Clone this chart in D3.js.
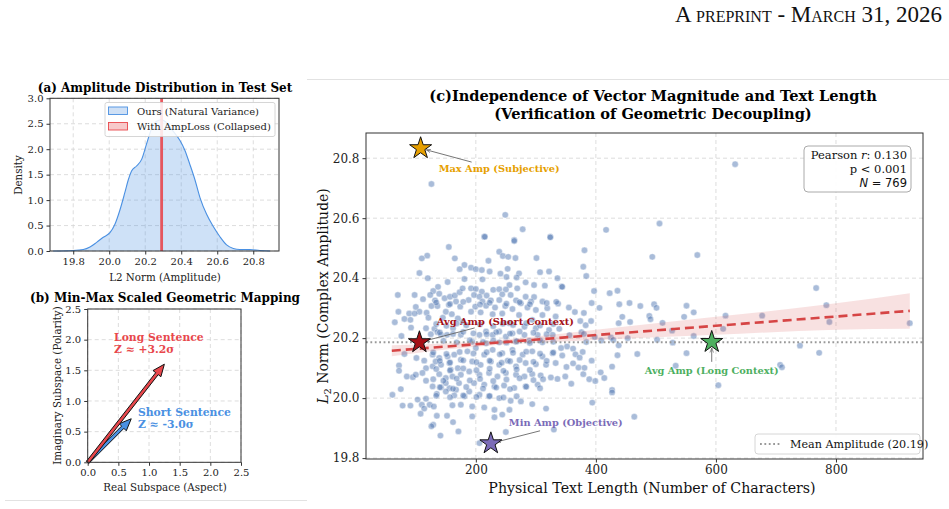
<!DOCTYPE html>
<html><head><meta charset="utf-8">
<script src="https://cdn.jsdelivr.net/npm/d3@7/dist/d3.min.js"></script>
<style>
html,body{margin:0;padding:0;background:#fff;}
svg{display:block;font-family:"DejaVu Serif",serif;}
</style></head>
<body>
<svg id="fig" width="949" height="509"></svg>
<script>
// ---------- DATA ----------
// Panel (a): KDE of amplitudes (Ours)
const kdeX = [19.689,19.80,19.856,19.893,19.93,19.967,20.004,20.031,20.059,20.087,20.106,20.124,20.152,20.18,20.207,20.235,20.263,20.291,20.319,20.356,20.393,20.42,20.448,20.476,20.504,20.541,20.578,20.615,20.652,20.689,20.726,20.781,20.837,20.893];
const kdeY = [0.0,0.01,0.03,0.08,0.17,0.27,0.36,0.52,0.80,1.15,1.40,1.57,1.67,1.80,2.10,2.40,2.55,2.58,2.52,2.35,2.17,1.98,1.70,1.40,1.05,0.72,0.48,0.28,0.12,0.05,0.03,0.03,0.01,0.0];
const collapsedAmp = 20.291;
const legendA = ["Ours (Natural Variance)", "With AmpLoss (Collapsed)"];
const ticksAX = [19.8,20.0,20.2,20.4,20.6,20.8];
const ticksAY = [0,0.5,1.0,1.5,2.0,2.5,3.0];

// Panel (b): vectors
const vecNames = ["Short Sentence","Long Sentence"];
const vecZ = ["Z \u2248 -3.0\u03c3","Z \u2248 +3.2\u03c3"];
const vecRe = [0.71, 1.25];
const vecIm = [0.71, 1.60];
const ticksB = [0,0.5,1.0,1.5,2.0,2.5];

// Panel (c): scatter (text length, L2 norm)
const scatterPoints = [
[632,20.780],[417,20.561],[506,20.582],[381,20.493],[494,20.471],[569,20.477],[379,20.438],[384,20.407],[343,20.372],[767,20.367],
[397,20.357],[423,20.350],[436,20.358],[393,20.317],[439,20.313],[456,20.317],[406,20.301],[474,20.307],[497,20.313],[501,20.301],
[551,20.308],[784,20.310],[355,20.302],[365,20.287],[380,20.284],[563,20.286],[616,20.275],[677,20.275],[444,20.271],[489,20.274],
[491,20.263],[547,20.271],[392,20.257],[374,20.257],[383,20.243],[438,20.250],[457,20.254],[511,20.251],[789,20.254],[923,20.250],
[612,20.231],[376,20.220],[527,20.225],[563,20.207],[356,20.210],[380,20.214],[398,20.204],[409,20.192],[425,20.202],[429,20.194],
[438,20.176],[453,20.200],[502,20.195],[528,20.185],[384,20.187],[352,20.172],[362,20.165],[378,20.154],[344,20.142],[366,20.146],
[373,20.135],[436,20.143],[469,20.147],[551,20.150],[740,20.175],[772,20.151],[393,20.125],[362,20.116],[351,20.104],[371,20.102],
[379,20.080],[381,20.101],[427,20.105],[533,20.108],[707,20.111],[710,20.103],[349,20.072],[389,20.063],[399,20.057],[408,20.086],
[414,20.067],[359,20.048],[604,20.043],[427,20.027],[427,20.019],[394,19.985],[464,19.938],
[126,20.714],[249,20.611],[278,20.563],[214,20.538],[264,20.527],[324,20.538],
[155,20.504],[119,20.475],[110,20.466],[165,20.466],[181,20.444],[173,20.430],[106,20.417],[120,20.400],[181,20.397],[153,20.387],
[137,20.371],[70,20.344],[98,20.344],[129,20.357],[124,20.344],[139,20.348],[148,20.333],[157,20.338],[165,20.342],[173,20.353],
[178,20.366],[112,20.330],[132,20.326],[126,20.307],[136,20.307],[100,20.304],[106,20.288],[71,20.288],[89,20.282],[98,20.282],
[81,20.264],[91,20.261],[65,20.253],[118,20.285],[121,20.268],[155,20.311],[167,20.322],[174,20.305],[150,20.288],[160,20.280],
[145,20.268],[92,20.235],[117,20.233],[131,20.231],[136,20.220],[142,20.211],[76,20.207],[152,20.211],[175,20.211],[125,20.213],
[162,20.233],[178,20.255],[170,20.266],
[215,20.538],[264,20.524],[324,20.536],[239,20.488],[245,20.474],[254,20.471],[266,20.467],[221,20.458],[301,20.467],[192,20.435],
[200,20.430],[210,20.427],[223,20.422],[241,20.415],[253,20.431],[272,20.416],[307,20.420],[322,20.422],[251,20.404],[268,20.402],
[211,20.396],[336,20.400],[283,20.386],[256,20.377],[315,20.375],[344,20.371],[297,20.377],[192,20.366],[200,20.364],[210,20.355],
[229,20.361],[239,20.363],[250,20.362],[269,20.366],[197,20.344],[206,20.338],[218,20.342],[244,20.346],[258,20.344],[283,20.338],
[297,20.337],[311,20.322],[337,20.315],[188,20.327],[211,20.322],[225,20.326],[239,20.327],[267,20.326],[275,20.316],[292,20.322],
[199,20.305],[217,20.308],[232,20.302],[249,20.307],[261,20.297],[286,20.302],[300,20.294],[319,20.300],[192,20.288],[208,20.286],
[228,20.280],[244,20.282],[272,20.277],[311,20.277],[333,20.272],[294,20.261],[256,20.250],[281,20.238],[300,20.233],[322,20.227],
[339,20.231],[217,20.222],[239,20.222],[261,20.216],[206,20.211],[228,20.211],[250,20.205],[281,20.211],[303,20.211],[328,20.211],
[194,20.188],[217,20.183],[239,20.186],[267,20.188],[289,20.191],[311,20.186],
[81,20.147],[101,20.134],[114,20.125],[128,20.145],[139,20.134],[153,20.139],[164,20.145],[175,20.128],[72,20.109],[72,20.091],
[85,20.072],[95,20.070],[100,20.078],[117,20.100],[128,20.106],[142,20.111],[156,20.117],[170,20.100],[117,20.058],[139,20.080],
[150,20.067],[161,20.072],[175,20.078],[128,20.039],[142,20.036],[156,20.033],[167,20.028],[75,20.030],[61,20.011],[135,20.014],
[150,20.022],[164,20.009],[181,20.006],[103,19.995],[117,19.998],[78,19.975],[91,19.975],[110,19.978],[123,19.978],[130,19.972],
[114,19.965],[161,19.976],[175,19.978],[108,19.948],[135,19.941],[152,19.941],[162,19.920],[129,19.911],[126,19.906],[171,19.889],
[141,19.875],[150,20.050],[172,20.050],[111,20.084],[133,20.122],[158,20.095],
[186,20.156],[200,20.167],[214,20.145],[228,20.161],[244,20.150],[261,20.161],[278,20.145],[294,20.156],[311,20.139],[328,20.150],
[342,20.167],[194,20.122],[208,20.111],[225,20.122],[239,20.111],[253,20.125],[267,20.106],[283,20.117],[300,20.113],[317,20.111],
[333,20.117],[189,20.089],[206,20.078],[222,20.084],[236,20.072],[250,20.084],[267,20.078],[281,20.072],[294,20.080],[308,20.076],
[325,20.069],[336,20.064],[197,20.050],[214,20.045],[231,20.039],[247,20.042],[264,20.034],[283,20.039],[303,20.045],[189,20.022],
[206,20.011],[222,20.006],[239,20.000],[258,19.991],[275,19.989],[294,19.980],[317,19.965],[194,19.972],[214,19.969],[231,19.961],
[256,19.961],[194,19.939],[231,19.936],[250,19.887],[330,19.895],[206,19.850],[244,19.945],
[134,20.319],[157,20.314],[179,20.321],[207,20.312],[223,20.318],[251,20.315],[273,20.320],[290,20.313],[318,20.317],[334,20.321],
[134,20.247],[151,20.241],[168,20.249],[184,20.243],[207,20.246],[229,20.240],[245,20.248],[262,20.244],[284,20.250],[307,20.242],[329,20.247],
[140,20.219],[162,20.214],[179,20.221],[196,20.216],[218,20.213],[234,20.220],[257,20.215],[273,20.222],[296,20.218],[318,20.213],
[146,20.191],[168,20.186],[190,20.193],[212,20.187],[229,20.192],[251,20.185],[268,20.190],[290,20.184],[307,20.193],[329,20.188],
[129,20.152],[151,20.147],[173,20.154],[196,20.149],[218,20.153],[240,20.146],[262,20.151],[284,20.155],[307,20.148],[329,20.152],
[140,20.124],[157,20.119],[179,20.126],[201,20.120],[223,20.125],[243,20.118],[257,20.123],[273,20.127],[296,20.121],[318,20.124],
[134,20.097],[157,20.092],[179,20.099],[201,20.093],[223,20.098],[246,20.091],[268,20.096],[290,20.094],
[129,20.063],[146,20.058],[168,20.065],[190,20.059],[207,20.064],[229,20.057],[251,20.062],[273,20.066],[296,20.060],[312,20.063],
[140,20.036],[162,20.031],[184,20.037],[212,20.032],[234,20.035],[257,20.030],[284,20.038],[307,20.033],
[134,20.008],[157,20.003],[179,20.009],[201,20.004],[223,20.007],[246,20.002],[268,20.006]
];
// regression line and confidence band
const regX = [60, 923];
const regY = [20.158, 20.291];
const ciX  = [60, 150, 240, 400, 600, 800, 923];
const ciLo = [20.140, 20.162, 20.178, 20.194, 20.211, 20.228, 20.231];
const ciHi = [20.176, 20.182, 20.194, 20.228, 20.271, 20.316, 20.350];
const meanAmp = 20.186;
// highlighted samples
const hlNames  = ["Max Amp (Subjective)","Avg Amp (Short Context)","Avg Amp (Long Context)","Min Amp (Objective)"];
const hlX      = [108, 106, 593, 225];
const hlY      = [20.833, 20.186, 20.187, 19.849];
const hlColors = ["#e69f00","#a50f15","#4daf5f","#7b6bb8"];
const ticksCX = [200,400,600,800];
const ticksCY = [19.8,20.0,20.2,20.4,20.6,20.8];
const stats = {r:"0.130", p:"0.001", n:"769"};

// ---------- DRAW ----------
const svg = d3.select("#fig");
const fmt1 = d3.format(".1f");

// page decorations
svg.append("text").attr("x",942).attr("y",22).attr("text-anchor","end")
  .style("font-family","'Liberation Serif',serif").style("font-size","23px")
  .style("font-variant","small-caps").attr("fill","#111")
  .text("A preprint - March 31, 2026");
svg.append("line").attr("x1",307).attr("x2",949).attr("y1",79.5).attr("y2",79.5).attr("stroke","#e2e2e2");
svg.append("line").attr("x1",5).attr("x2",307).attr("y1",500.5).attr("y2",500.5).attr("stroke","#e2e2e2");

function grid(g, xs, ys, xt, yt, x0, x1, y0, y1){
  g.selectAll(null).data(xt).enter().append("line")
    .attr("x1",d=>xs(d)).attr("x2",d=>xs(d)).attr("y1",y0).attr("y2",y1)
    .attr("stroke","#d4d4d4").attr("stroke-width",0.8).attr("stroke-dasharray","4,3");
  g.selectAll(null).data(yt).enter().append("line")
    .attr("y1",d=>ys(d)).attr("y2",d=>ys(d)).attr("x1",x0).attr("x2",x1)
    .attr("stroke","#d4d4d4").attr("stroke-width",0.8).attr("stroke-dasharray","4,3");
}
function axes(g, xs, ys, xt, yt, y0, x0, fs, xf, yf){
  const ax = g.append("g").attr("transform",`translate(0,${y0})`)
    .call(d3.axisBottom(xs).tickValues(xt).tickSize(3.5).tickPadding(3).tickFormat(xf));
  const ay = g.append("g").attr("transform",`translate(${x0},0)`)
    .call(d3.axisLeft(ys).tickValues(yt).tickSize(3.5).tickPadding(3).tickFormat(yf));
  [ax,ay].forEach(a=>{
    a.select(".domain").remove();
    a.selectAll("line").attr("stroke","#333");
    a.selectAll("text").style("font-family","'DejaVu Serif',serif").style("font-size",fs+"px").attr("fill","#222");
  });
}
function frame(g, x0, y0, x1, y1){
  g.append("rect").attr("x",x0).attr("y",y0).attr("width",x1-x0).attr("height",y1-y0)
    .attr("fill","none").attr("stroke","#333").attr("stroke-width",1);
}

// ===== Panel (a) =====
{
  const g = svg.append("g");
  const X0=50, X1=279, Y0=98.3, Y1=251;
  const xs = d3.scaleLinear().domain([19.671,20.943]).range([X0,X1]);
  const ys = d3.scaleLinear().domain([0,3]).range([Y1,Y0]);
  grid(g, xs, ys, ticksAX, ticksAY, X0, X1, Y0, Y1);
  const pts = kdeX.map((x,i)=>[x,kdeY[i]]);
  g.append("path").datum(pts)
    .attr("d", d3.area().x(d=>xs(d[0])).y0(ys(0)).y1(d=>ys(d[1])).curve(d3.curveMonotoneX))
    .attr("fill","#4a90e2").attr("fill-opacity",0.27);
  g.append("path").datum(pts)
    .attr("d", d3.line().x(d=>xs(d[0])).y(d=>ys(d[1])).curve(d3.curveMonotoneX))
    .attr("fill","none").attr("stroke","#4a90e2").attr("stroke-width",1.1);
  g.append("rect").attr("x",xs(collapsedAmp)-1.4).attr("y",Y0).attr("width",2.8).attr("height",Y1-Y0)
    .attr("fill","#e8474c").attr("opacity",0.9);
  frame(g, X0, Y0, X1, Y1);
  axes(g, xs, ys, ticksAX, ticksAY, Y1, X0, 10, fmt1, fmt1);
  // legend
  const lg = g.append("g");
  lg.append("rect").attr("x",105).attr("y",102.5).attr("width",170).attr("height",34).attr("rx",2)
    .attr("fill","#fff").attr("fill-opacity",0.85).attr("stroke","#ccc").attr("stroke-width",0.8);
  const pf = ["#cfe0f5","#f7c9ca"], ps = ["#4a90e2","#e8474c"];
  legendA.forEach((t,i)=>{
    const yy = 111 + i*15.5;
    lg.append("rect").attr("x",108.5).attr("y",yy-4).attr("width",19).attr("height",7.5)
      .attr("fill",pf[i]).attr("stroke",ps[i]).attr("stroke-width",0.9);
    lg.append("text").attr("x",137).attr("y",yy+3.5).style("font-size","10px").attr("fill","#222").text(t);
  });
  g.append("text").attr("x",165).attr("y",92).attr("text-anchor","middle")
    .style("font-size","12px").style("font-weight","bold").text("(a) Amplitude Distribution in Test Set");
  g.append("text").attr("x",165).attr("y",280.5).attr("text-anchor","middle")
    .style("font-size","10.3px").attr("fill","#222").text("L2 Norm (Amplitude)");
  g.append("text").attr("transform","translate(21.5,175) rotate(-90)").attr("text-anchor","middle")
    .style("font-size","10.3px").attr("fill","#222").text("Density");
}

// ===== Panel (b) =====
{
  const g = svg.append("g");
  const X0=87.7, X1=241, Y0=309, Y1=462.3;
  const xs = d3.scaleLinear().domain([0,2.5]).range([X0,X1]);
  const ys = d3.scaleLinear().domain([0,2.5]).range([Y1,Y0]);
  grid(g, xs, ys, ticksB, ticksB, X0, X1, Y0, Y1);
  const cols = ["#4a90e2","#e8474c"];
  function arrowPoly(x0,y0,x1,y1,w,hw,hl){
    const dx=x1-x0, dy=y1-y0, L=Math.hypot(dx,dy), ux=dx/L, uy=dy/L, nx=-uy, ny=ux;
    const bx=x1-ux*hl, by=y1-uy*hl;
    return [[x0+nx*w/2,y0+ny*w/2],[bx+nx*w/2,by+ny*w/2],[bx+nx*hw/2,by+ny*hw/2],[x1,y1],
            [bx-nx*hw/2,by-ny*hw/2],[bx-nx*w/2,by-ny*w/2],[x0-nx*w/2,y0-ny*w/2]];
  }
  vecRe.forEach((re,i)=>{
    const p = arrowPoly(xs(0),ys(0),xs(re),ys(vecIm[i]),3.2,10,12);
    g.append("polygon").attr("points",p.map(d=>d.join(",")).join(" "))
      .attr("fill",cols[i]).attr("stroke","#111").attr("stroke-width",1).attr("stroke-linejoin","miter");
  });
  // labels
  g.append("text").attr("x",xs(0.43)).attr("y",ys(1.98)).style("font-size","10.8px").style("font-weight","bold")
    .attr("fill",cols[1]).text(vecNames[1]);
  g.append("text").attr("x",xs(0.43)).attr("y",ys(1.78)).style("font-size","10.8px").style("font-weight","bold")
    .attr("fill",cols[1]).text(vecZ[1]);
  g.append("text").attr("x",xs(0.82)).attr("y",ys(0.76)).style("font-size","10.8px").style("font-weight","bold")
    .attr("fill",cols[0]).text(vecNames[0]);
  g.append("text").attr("x",xs(0.82)).attr("y",ys(0.56)).style("font-size","10.8px").style("font-weight","bold")
    .attr("fill",cols[0]).text(vecZ[0]);
  frame(g, X0, Y0, X1, Y1);
  axes(g, xs, ys, ticksB, ticksB, Y1, X0, 10, fmt1, fmt1);
  g.append("text").attr("x",165).attr("y",301.5).attr("text-anchor","middle")
    .style("font-size","12px").style("font-weight","bold").text("(b) Min-Max Scaled Geometric Mapping");
  g.append("text").attr("x",165).attr("y",491).attr("text-anchor","middle")
    .style("font-size","10.3px").attr("fill","#222").text("Real Subspace (Aspect)");
  g.append("text").attr("transform","translate(60.5,385.5) rotate(-90)").attr("text-anchor","middle")
    .style("font-size","10.3px").attr("fill","#222").text("Imaginary Subspace (Polarity)");
}

// ===== Panel (c) =====
{
  const g = svg.append("g");
  const X0=366, X1=923, Y0=133, Y1=459;
  const xs = d3.scaleLinear().domain([17,945]).range([X0,X1]);
  const ys = d3.scaleLinear().domain([19.797,20.884]).range([Y1,Y0]);
  grid(g, xs, ys, ticksCX, ticksCY, X0, X1, Y0, Y1);
  const clipId="clipC";
  svg.append("clipPath").attr("id",clipId).append("rect").attr("x",X0).attr("y",Y0).attr("width",X1-X0).attr("height",Y1-Y0);
  const pg = g.append("g").attr("clip-path",`url(#${clipId})`);
  pg.selectAll("circle.pt").data(scatterPoints).enter().append("circle").attr("class","pt")
    .attr("cx",d=>xs(d[0])).attr("cy",d=>ys(d[1])).attr("r",3.2)
    .attr("fill","#4c72b0").attr("fill-opacity",0.48)
    .attr("stroke","#fff").attr("stroke-width",0.5).attr("stroke-opacity",0.8);
  // confidence band
  const band = ciX.map((x,i)=>[x,ciLo[i],ciHi[i]]);
  pg.append("path").datum(band)
    .attr("d", d3.area().x(d=>xs(d[0])).y0(d=>ys(d[1])).y1(d=>ys(d[2])).curve(d3.curveMonotoneX))
    .attr("fill","#d64545").attr("fill-opacity",0.16);
  // mean line
  pg.append("line").attr("x1",X0).attr("x2",X1).attr("y1",ys(meanAmp)).attr("y2",ys(meanAmp))
    .attr("stroke","#999").attr("stroke-width",2).attr("stroke-dasharray","1.8,2.6");
  // regression line
  pg.append("line").attr("x1",xs(regX[0])).attr("x2",xs(regX[1])).attr("y1",ys(regY[0])).attr("y2",ys(regY[1]))
    .attr("stroke","#d64545").attr("stroke-width",2.6).attr("stroke-dasharray","9,5");
  // annotation arrows + texts
  const annText = [[138,20.764,"start"],[135,20.257,"start"],[593,20.091,"middle"],[255,19.918,"start"]];
  const annEnd  = [[193,20.787],[198,20.234],[593,20.121],[307,19.891]];
  svg.append("defs").append("marker").attr("id","ah").attr("viewBox","0 0 10 10").attr("refX",10).attr("refY",5)
    .attr("markerWidth",5).attr("markerHeight",5).attr("orient","auto")
    .append("path").attr("d","M0,1 L10,5 L0,9").attr("fill","none").attr("stroke","#666").attr("stroke-width",1.5);
  hlX.forEach((x,i)=>{
    const sx=xs(x), sy=ys(hlY[i]);
    const ex=xs(annEnd[i][0]), ey=ys(annEnd[i][1]);
    const dx=sx-ex, dy=sy-ey, L=Math.hypot(dx,dy);
    g.append("line").attr("x1",ex).attr("y1",ey).attr("x2",sx-dx/L*6).attr("y2",sy-dy/L*6)
      .attr("stroke","#666").attr("stroke-width",0.9).attr("marker-end","url(#ah)");
  });
  hlX.forEach((x,i)=>{
    g.append("path").attr("d",d3.symbol().type(d3.symbolStar).size(150)())
      .attr("transform",`translate(${xs(x)},${ys(hlY[i])})`)
      .attr("fill",hlColors[i]).attr("stroke","#111").attr("stroke-width",1);
  });
  hlNames.forEach((t,i)=>{
    g.append("text").attr("x",xs(annText[i][0])).attr("y",ys(annText[i][1])+3.5)
      .attr("text-anchor",annText[i][2]).style("font-size","9.8px").style("font-weight","bold")
      .attr("fill",hlColors[i]).text(t);
  });
  frame(g, X0, Y0, X1, Y1);
  axes(g, xs, ys, ticksCX, ticksCY, Y1, X0, 12, d3.format("d"), fmt1);
  // stats box
  const sb = g.append("g");
  sb.append("rect").attr("x",804).attr("y",146).attr("width",107).attr("height",46).attr("rx",4)
    .attr("fill","#fff").attr("fill-opacity",0.9).attr("stroke","#aaa").attr("stroke-width",1);
  const t1 = sb.append("text").attr("x",907).attr("y",159).attr("text-anchor","end").style("font-size","11.5px").attr("fill","#111");
  t1.append("tspan").text("Pearson ");
  t1.append("tspan").style("font-style","italic").text("r");
  t1.append("tspan").text(": " + stats.r);
  sb.append("text").attr("x",907).attr("y",173).attr("text-anchor","end").style("font-size","11.5px").attr("fill","#111")
    .text("p < " + stats.p);
  const t3 = sb.append("text").attr("x",907).attr("y",187).attr("text-anchor","end")
    .style("font-size","11.5px").style("font-family","'DejaVu Sans',sans-serif").attr("fill","#111");
  t3.append("tspan").style("font-style","italic").text("N");
  t3.append("tspan").text(" = " + stats.n);
  // legend
  const lg = g.append("g");
  lg.append("rect").attr("x",755).attr("y",434).attr("width",165).attr("height",20).attr("rx",3)
    .attr("fill","#fff").attr("fill-opacity",0.9).attr("stroke","#ccc").attr("stroke-width",0.8);
  lg.append("line").attr("x1",760).attr("x2",782).attr("y1",444).attr("y2",444)
    .attr("stroke","#999").attr("stroke-width",2).attr("stroke-dasharray","1.8,2.6");
  lg.append("text").attr("x",790).attr("y",448).style("font-size","11.2px").attr("fill","#111")
    .text(`Mean Amplitude (${meanAmp.toFixed(2)})`);
  // titles and labels
  g.append("text").attr("x",653).attr("y",101).attr("text-anchor","middle").style("font-size","14.6px").style("font-weight","bold")
    .text("(c)Independence of Vector Magnitude and Text Length");
  g.append("text").attr("x",653).attr("y",119).attr("text-anchor","middle").style("font-size","14.6px").style("font-weight","bold")
    .text("(Verification of Geometric Decoupling)");
  g.append("text").attr("x",652).attr("y",493).attr("text-anchor","middle").style("font-size","14.2px").attr("fill","#111")
    .text("Physical Text Length (Number of Characters)");
  const yl = g.append("text").attr("transform","translate(328,296) rotate(-90)").attr("text-anchor","middle")
    .style("font-size","14px").attr("fill","#111");
  yl.append("tspan").style("font-style","italic").text("L");
  yl.append("tspan").attr("dy",3).style("font-size","9.8px").text("2");
  yl.append("tspan").attr("dy",-3).text(" Norm (Complex Amplitude)");
}
</script>
</body></html>
